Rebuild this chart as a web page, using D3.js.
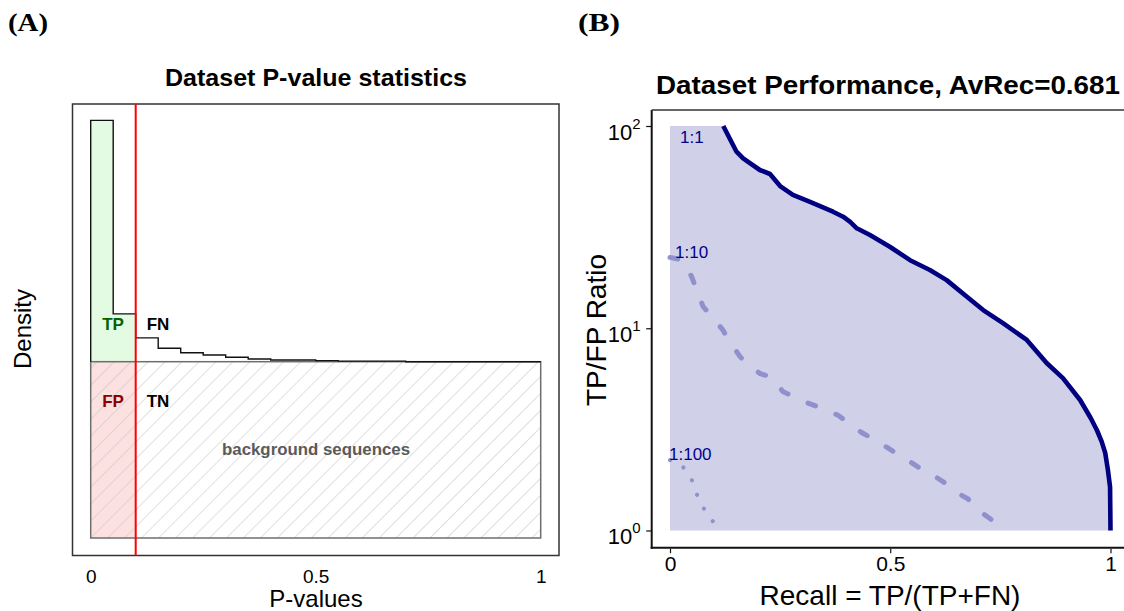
<!DOCTYPE html>
<html>
<head>
<meta charset="utf-8">
<script src="https://cdn.jsdelivr.net/npm/d3@7"></script>
<style>
  html, body { margin: 0; padding: 0; background: #fff; }
  svg { display: block; font-family: "Liberation Sans", Arial, Helvetica, sans-serif; }
</style>
</head>
<body>
<svg id="chart" width="1124" height="611"></svg>
<script>
// ---------------- Panel A data ----------------
const binStarts = [0, 0.05, 0.1, 0.15, 0.2, 0.25, 0.3, 0.35, 0.4, 0.45, 0.5, 0.55, 0.6, 0.65, 0.7, 0.75, 0.8, 0.85, 0.9, 0.95];
const binWidth = 0.05;
const histDensity = [2.369, 1.271, 1.135, 1.076, 1.051, 1.038, 1.025, 1.015, 1.010, 1.010, 1.006, 1.003, 1.003, 1.003, 1.0, 1.0, 1.0, 1.0, 1.0, 1.0];
const backgroundDensity = 1;
const pThreshold = 0.1;
const pTicks = [0, 0.5, 1];
const pTickLabels = ["0", "0.5", "1"];

// ---------------- Panel B data ----------------
const recall1 = [0.121, 0.151, 0.166, 0.204, 0.227, 0.250, 0.279, 0.318, 0.370, 0.393, 0.409, 0.424, 0.454, 0.499, 0.545, 0.590, 0.628, 0.674, 0.711, 0.756, 0.810, 0.855, 0.892, 0.931, 0.955, 0.969, 0.980, 0.988, 0.994, 0.999, 1.0];
const ratio1  = [100, 74.6, 69.2, 60.6, 57.9, 50.5, 45.6, 42.1, 37.7, 35.6, 33.6, 31.2, 28.9, 25.3, 21.7, 19.4, 17.3, 14.3, 12.3, 10.6, 8.75, 6.73, 5.67, 4.42, 3.6, 3.14, 2.75, 2.42, 2.0, 1.64, 1.0];

const recall10 = [0.0, 0.023, 0.032, 0.049, 0.075, 0.095, 0.120, 0.136, 0.159, 0.174, 0.204, 0.227, 0.257, 0.276, 0.313, 0.341, 0.381, 0.401, 0.435, 0.454, 0.492, 0.511, 0.549, 0.568, 0.605, 0.624, 0.658, 0.677, 0.704, 0.723, 0.753, 0.768];
const ratio10  = [22.4, 21.9, 21.3, 18.0, 12.8, 11.4, 9.8, 8.58, 7.23, 6.73, 5.98, 5.76, 4.85, 4.64, 4.27, 4.05, 3.72, 3.45, 3.05, 2.89, 2.58, 2.43, 2.16, 2.03, 1.83, 1.72, 1.51, 1.43, 1.24, 1.16, 1.04, 1.0];

const recall100 = [0.0, 0.029, 0.049, 0.062, 0.078, 0.100];
const ratio100  = [2.23, 2.07, 1.79, 1.49, 1.27, 1.09];

const recallTicks = [0, 0.5, 1];
const recallTickLabels = ["0", "0.5", "1"];
const ratioTicks = [1, 10, 100];
const ratioExponents = ["0", "1", "2"];
const curveLabels = ["1:1", "1:10", "1:100"];

const svg = d3.select("#chart");

// ================= Panel A =================
const xA = d3.scaleLinear().domain([0, 1]).range([90.7, 540.7]);
const yA = d3.scaleLinear().domain([0, 1]).range([538, 361.7]);

const defs = svg.append("defs");
const hatch = defs.append("pattern")
  .attr("id", "hatch").attr("patternUnits", "userSpaceOnUse")
  .attr("width", 12).attr("height", 12)
  .attr("patternTransform", "rotate(45)");
hatch.append("line").attr("x1", 0).attr("y1", 0).attr("x2", 0).attr("y2", 12)
  .attr("stroke", "#c4c4c4").attr("stroke-width", 1.1);

const gA = svg.append("g");

// outer box
gA.append("rect").attr("x", 72.5).attr("y", 104).attr("width", 486.5).attr("height", 451.5)
  .attr("fill", "none").attr("stroke", "#333").attr("stroke-width", 1.5);

// TP green region (bins below threshold)
const tpPts = [[0, backgroundDensity]];
binStarts.forEach((b, i) => {
  if (b < pThreshold - 1e-9) { tpPts.push([b, histDensity[i]]); tpPts.push([b + binWidth, histDensity[i]]); }
});
tpPts.push([pThreshold, backgroundDensity]);
const lineA = d3.line().x(d => xA(d[0])).y(d => yA(d[1]));
gA.append("path").attr("d", lineA(tpPts) + "Z").attr("fill", "#e2fbe2").attr("stroke", "none");

// FP pink region
gA.append("rect").attr("x", xA(0)).attr("y", yA(backgroundDensity))
  .attr("width", xA(pThreshold) - xA(0)).attr("height", yA(0) - yA(backgroundDensity))
  .attr("fill", "#fde0e0");

// background hatched rect
gA.append("rect").attr("x", xA(0)).attr("y", yA(backgroundDensity))
  .attr("width", xA(1) - xA(0)).attr("height", yA(0) - yA(backgroundDensity))
  .attr("fill", "url(#hatch)").attr("stroke", "#6e6e6e").attr("stroke-width", 1.5);

// histogram outline
const histPts = [[0, backgroundDensity]];
binStarts.forEach((b, i) => { histPts.push([b, histDensity[i]]); histPts.push([b + binWidth, histDensity[i]]); });
gA.append("path").attr("d", lineA(histPts)).attr("fill", "none")
  .attr("stroke", "#111").attr("stroke-width", 1.4);

// threshold red line
gA.append("line").attr("x1", xA(pThreshold)).attr("x2", xA(pThreshold))
  .attr("y1", 104).attr("y2", 555.5).attr("stroke", "#ff0000").attr("stroke-width", 2);

// region labels
const lab = (x, y, t, c) => gA.append("text").attr("x", x).attr("y", y).attr("text-anchor", "middle")
  .attr("font-weight", "bold").attr("font-size", 17).attr("fill", c).text(t);
lab(113, 330, "TP", "#006400");
lab(158, 330, "FN", "#000");
lab(113, 407, "FP", "#8b0000");
lab(158, 407, "TN", "#000");
gA.append("text").attr("x", 316).attr("y", 455).attr("text-anchor", "middle")
  .attr("font-weight", "bold").attr("font-size", 16).attr("fill", "#5a5a5a")
  .attr("textLength", 188).attr("lengthAdjust", "spacingAndGlyphs").text("background sequences");

// x axis A
const axA = gA.append("g").attr("transform", "translate(0,569)")
  .call(d3.axisBottom(xA).tickValues(pTicks).tickSize(0).tickFormat((d, i) => pTickLabels[i]));
axA.select(".domain").remove();
axA.selectAll("text").attr("font-size", 19).attr("fill", "#000")
  .attr("font-family", "Liberation Sans, Arial, sans-serif").attr("dy", "0.71em").attr("y", 0);

gA.append("text").attr("x", 316).attr("y", 607).attr("text-anchor", "middle")
  .attr("font-size", 24).text("P-values");
gA.append("text").attr("transform", "translate(31,329) rotate(-90)").attr("text-anchor", "middle")
  .attr("font-size", 24).text("Density");
gA.append("text").attr("x", 316).attr("y", 86).attr("text-anchor", "middle")
  .attr("font-weight", "bold").attr("font-size", 24)
  .attr("textLength", 302).attr("lengthAdjust", "spacingAndGlyphs").text("Dataset P-value statistics");

// panel label
svg.append("text").attr("x", 8).attr("y", 31).attr("font-family", "Liberation Serif, serif")
  .attr("font-weight", "bold").attr("font-size", 25)
  .attr("textLength", 40).attr("lengthAdjust", "spacingAndGlyphs").text("(A)");

// ================= Panel B =================
const xB = d3.scaleLinear().domain([0, 1]).range([670, 1110.5]);
const yB = d3.scaleLog().domain([1, 100]).range([530.5, 126]);
const gB = svg.append("g");

const d1 = recall1.map((r, i) => [r, ratio1[i]]);
const d10 = recall10.map((r, i) => [r, ratio10[i]]);
const d100 = recall100.map((r, i) => [r, ratio100[i]]);

// shaded area under 1:1 curve
const shadeData = [[0, yB.domain()[1]]].concat(d1);
gB.append("path")
  .attr("d", d3.area().x(d => xB(d[0])).y0(yB(1)).y1(d => yB(d[1]))(shadeData))
  .attr("fill", "#d0d0e8");

const lineB = d3.line().x(d => xB(d[0])).y(d => yB(d[1])).curve(d3.curveLinear);
gB.append("path").attr("d", lineB(d10)).attr("fill", "none")
  .attr("stroke", "#9090cc").attr("stroke-width", 5).attr("stroke-linecap", "round")
  .attr("stroke-dasharray", "8,22");
gB.append("path").attr("d", lineB(d100)).attr("fill", "none")
  .attr("stroke", "#9090cc").attr("stroke-width", 4).attr("stroke-linecap", "round")
  .attr("stroke-dasharray", "0.1,15.3");
gB.append("path").attr("d", lineB(d1)).attr("fill", "none")
  .attr("stroke", "#000080").attr("stroke-width", 4.6).attr("stroke-linejoin", "round");

// curve labels
const labPos = [[680, 142.5], [675, 257.5], [669, 459.5]];
curveLabels.forEach((t, i) => gB.append("text").attr("x", labPos[i][0]).attr("y", labPos[i][1])
  .attr("font-size", 17).attr("fill", "#00008b").text(t));

// frame
gB.append("line").attr("x1", 651.7).attr("x2", 651.7).attr("y1", 110).attr("y2", 548.7)
  .attr("stroke", "#111").attr("stroke-width", 2);
gB.append("line").attr("x1", 651.7).attr("x2", 1124).attr("y1", 110).attr("y2", 110)
  .attr("stroke", "#333").attr("stroke-width", 1.6);
gB.append("line").attr("x1", 650.7).attr("x2", 1124).attr("y1", 547.7).attr("y2", 547.7)
  .attr("stroke", "#111").attr("stroke-width", 2);

// x axis B
const axBx = gB.append("g").attr("transform", "translate(0,548.7)")
  .call(d3.axisBottom(xB).tickValues(recallTicks).tickSize(4.5).tickPadding(3)
    .tickFormat((d, i) => recallTickLabels[i]));
axBx.select(".domain").remove();
axBx.selectAll("line").attr("stroke", "#111").attr("stroke-width", 1.2);
axBx.selectAll("text").attr("font-size", 21).attr("fill", "#000")
  .attr("font-family", "Liberation Sans, Arial, sans-serif");

// y axis B (log)
const axBy = gB.append("g").attr("transform", "translate(651.7,0)")
  .call(d3.axisLeft(yB).tickValues(ratioTicks).tickSize(5.5).tickFormat(() => ""));
axBy.select(".domain").remove();
axBy.selectAll("line").attr("stroke", "#111").attr("stroke-width", 1.2);
axBy.selectAll(".tick").each(function(d, i) {
  const t = d3.select(this).select("text").text(null)
    .attr("x", -11).attr("dy", null).attr("y", 13)
    .attr("text-anchor", "end").attr("fill", "#000")
    .attr("font-family", "Liberation Sans, Arial, sans-serif").attr("font-size", 22);
  t.append("tspan").text("10");
  t.append("tspan").attr("dy", -11).attr("font-size", 15).text(ratioExponents[i]);
});

gB.append("text").attr("x", 890).attr("y", 605).attr("text-anchor", "middle")
  .attr("font-size", 28).text("Recall = TP/(TP+FN)");
gB.append("text").attr("transform", "translate(606,330) rotate(-90)").attr("text-anchor", "middle")
  .attr("font-size", 28).text("TP/FP Ratio");
gB.append("text").attr("x", 888).attr("y", 94).attr("text-anchor", "middle")
  .attr("font-weight", "bold").attr("font-size", 26)
  .attr("textLength", 464).attr("lengthAdjust", "spacingAndGlyphs").text("Dataset Performance, AvRec=0.681");

svg.append("text").attr("x", 578).attr("y", 31).attr("font-family", "Liberation Serif, serif")
  .attr("font-weight", "bold").attr("font-size", 25)
  .attr("textLength", 42).attr("lengthAdjust", "spacingAndGlyphs").text("(B)");
</script>
</body>
</html>
